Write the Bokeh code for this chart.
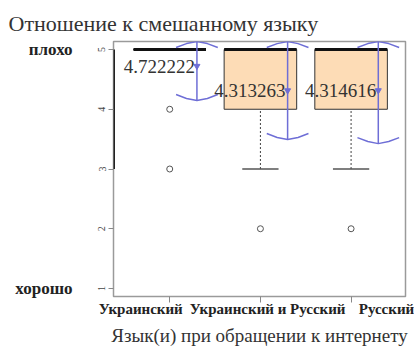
from bokeh.plotting import figure
from bokeh.models import Range1d, FixedTicker, LinearAxis, Title
from bokeh.core.properties import value
from bokeh.embed import file_html
from bokeh.resources import INLINE

# ---- data ----
categories = ["Украинский", "Украинский и Русский", "Русский"]
positions = [1, 2, 3]
q1 = [5, 4, 4]
median = [5, 5, 5]
q3 = [5, 5, 5]
whisk_lo = [5, 3, 3]
whisk_hi = [5, 5, 5]
out_group = [1, 1, 2, 3]
out_value = [4, 3, 2, 2]
means = [4.722222, 4.313263, 4.314616]
mean_labels = ["4.722222", "4.313263", "4.314616"]
sds = [0.576, 0.82, 0.89]
y_ticks = [1, 2, 3, 4, 5]
axis_dark = [3, 5]

title_text = "Отношение к смешанному языку"
x_title = "Язык(и) при обращении к интернету"
scale_labels = {1: "хорошо", 5: "плохо"}

# ---- layout / style ----
label_shift = [-0.32, 0.08, 0.39]
SERIF = "Liberation Serif"
BLUE = "#6e6ed6"
FILL = "#fddcb6"

x0, x1 = 0.38, 3.6
y0, y1 = 0.866, 5.134

p = figure(width=414, height=352, x_range=Range1d(x0, x1), y_range=Range1d(y0, y1),
           output_backend="svg", toolbar_location=None,
           min_border_left=113, min_border_right=9, min_border_top=41, min_border_bottom=56)
p.title = Title(text=title_text, align="left", offset=-105, standoff=12,
                text_font=SERIF, text_font_size="22px", text_font_style="normal",
                text_color="#333333")
p.grid.visible = False
p.outline_line_color = "#9a9a9a"
p.outline_line_width = 1.5
p.background_fill_color = "white"
p.border_fill_color = "white"

bw = 0.8
cap = 0.4
shift = 0.3

# boxes
p.quad(left=[x - bw / 2 for x in positions], right=[x + bw / 2 for x in positions],
       bottom=q1, top=q3, fill_color=FILL, line_color="#333333", line_width=1)
# whiskers (dotted)
p.segment(x0=positions, x1=positions, y0=whisk_lo, y1=q1, line_color="#444444",
          line_dash="2 2", line_width=1)
# caps
caps = [i for i in range(3) if whisk_lo[i] < q1[i]]
p.segment(x0=[positions[i] - cap / 2 for i in caps], x1=[positions[i] + cap / 2 for i in caps],
          y0=[whisk_lo[i] for i in caps], y1=[whisk_lo[i] for i in caps],
          line_color="#555555", line_width=1.5)
# medians
p.segment(x0=[x - bw / 2 for x in positions], x1=[x + bw / 2 for x in positions],
          y0=median, y1=median, line_color="#111111", line_width=3)
# outliers
p.scatter(x=out_group, y=out_value, marker="circle", size=6, fill_color=None,
          line_color="#555555", line_width=1)

# dark axis piece
p.segment(x0=[x0], x1=[x0], y0=[axis_dark[0]], y1=[axis_dark[1]], line_color="#222222", line_width=3)

# mean +- sd arrows
bx = [x + shift for x in positions]
tops = [min(m + s, y1) for m, s in zip(means, sds)]
bots = [m - s for m, s in zip(means, sds)]
p.segment(x0=bx, x1=bx, y0=bots, y1=tops, line_color=BLUE, line_width=1.5)
hw = 0.23
hh = 0.1
for xb, t, b in zip(bx, tops, bots):
    p.line(x=[xb - hw, xb - hw / 2, xb, xb + hw / 2, xb + hw], y=[t - hh, t - hh * 0.35, t, t - hh * 0.35, t - hh],
           line_color=BLUE, line_width=1.5)
    p.line(x=[xb - hw, xb - hw / 2, xb, xb + hw / 2, xb + hw], y=[b + hh, b + hh * 0.35, b, b + hh * 0.35, b + hh],
           line_color=BLUE, line_width=1.5)
p.scatter(x=bx, y=means, marker="inverted_triangle", size=6, fill_color=BLUE, line_color=BLUE)
p.text(x=bx, y=means, text=mean_labels, text_align="right", text_baseline="middle", x_offset=-2,
       text_font=value(SERIF), text_font_size="19px", text_color="#333333")

# x axis: tick marks only
xa = p.xaxis[0]
xa.ticker = FixedTicker(ticks=positions)
xa.major_label_text_font_size = "1px"
xa.major_label_text_color = None
xa.major_tick_out = 6
xa.major_tick_in = 0
xa.minor_tick_line_color = None
xa.major_tick_line_color = "#888888"
xa.axis_line_color = None
xa.major_label_standoff = 0

# x axis: category labels + title
lab_pos = [x + s for x, s in zip(positions, label_shift)]
xl = LinearAxis(ticker=FixedTicker(ticks=lab_pos),
                major_label_overrides={lp: c for lp, c in zip(lab_pos, categories)})
xl.major_label_text_font = SERIF
xl.major_label_text_font_style = "bold"
xl.major_label_text_font_size = "15px"
xl.major_label_text_color = "#222222"
xl.major_tick_line_color = None
xl.minor_tick_line_color = None
xl.axis_line_color = None
xl.major_label_standoff = -8
xl.axis_label = x_title
xl.axis_label_text_font = SERIF
xl.axis_label_text_font_style = "normal"
xl.axis_label_text_font_size = "19px"
xl.axis_label_text_color = "#333333"
xl.axis_label_standoff = 5
p.add_layout(xl, "below")

# y axis
ya = p.yaxis[0]
ya.ticker = FixedTicker(ticks=y_ticks)
ya.major_label_orientation = "vertical"
ya.major_label_text_font = SERIF
ya.major_label_text_font_size = "10px"
ya.major_label_text_color = "#444444"
ya.major_tick_out = 5
ya.major_tick_in = 0
ya.minor_tick_line_color = None
ya.major_tick_line_color = "#888888"
ya.axis_line_color = None
ya.major_label_standoff = 3

# outer scale labels
ys = LinearAxis(ticker=FixedTicker(ticks=list(scale_labels.keys())),
                major_label_overrides=scale_labels)
ys.major_label_text_font = SERIF
ys.major_label_text_font_style = "bold"
ys.major_label_text_font_size = "17px"
ys.major_label_text_color = "#222222"
ys.major_tick_line_color = None
ys.minor_tick_line_color = None
ys.axis_line_color = None
ys.major_label_standoff = 17
p.add_layout(ys, "left")

open("out.html", "w").write(file_html(p, INLINE))
